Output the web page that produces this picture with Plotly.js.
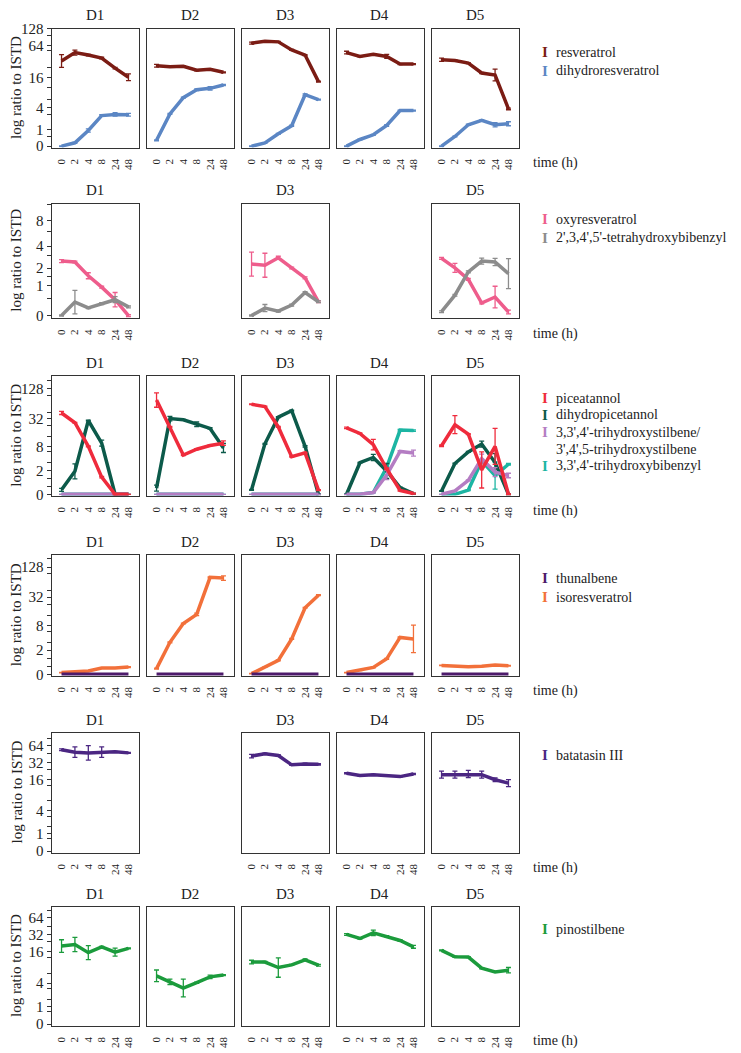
<!DOCTYPE html>
<html>
<head>
<meta charset="utf-8">
<script src="https://cdn.plot.ly/plotly-3.0.1.min.js"></script>
<style>
  body { margin: 0; background: #fff; }
  #chart { width: 741px; height: 1053px; }
</style>
</head>
<body>
<div id="chart"></div>
<script>
// values are log2(ratio + 1), as drawn on the y axes; null = panel not shown
const donors = ['D1', 'D2', 'D3', 'D4', 'D5'];
const timeLabels = ['0', '2', '4', '8', '24', '48'];

// row 1
const resveratrol = [
  [5.1, 5.6, 5.45, 5.27, 4.67, 4.12],
  [4.81, 4.75, 4.78, 4.54, 4.6, 4.42],
  [6.16, 6.28, 6.24, 5.76, 5.45, 3.86],
  [5.6, 5.37, 5.5, 5.37, 4.91, 4.91],
  [5.17, 5.13, 4.97, 4.38, 4.26, 2.23]];
const resveratrolErr = [
  [0.38, 0.15, 0.04, 0.05, 0.04, 0.2],
  [0.08, 0.03, 0.03, 0.04, 0.04, 0.03],
  [0.06, 0.03, 0.03, 0.03, 0.03, 0.03],
  [0.08, 0.03, 0.03, 0.12, 0.03, 0.03],
  [0.1, 0.03, 0.03, 0.04, 0.35, 0.05]];
const dihydroresveratrol = [
  [0, 0.2, 0.94, 1.83, 1.9, 1.88],
  [0.35, 1.93, 2.9, 3.38, 3.46, 3.66],
  [0, 0.19, 0.74, 1.22, 3.08, 2.79],
  [0, 0.4, 0.68, 1.24, 2.13, 2.13],
  [0, 0.58, 1.28, 1.54, 1.28, 1.34]];
const dihydroresveratrolErr = [
  [0.02, 0.03, 0.1, 0.05, 0.1, 0.08],
  [0.03, 0.03, 0.03, 0.05, 0.1, 0.04],
  [0.02, 0.02, 0.03, 0.03, 0.05, 0.03],
  [0.02, 0.02, 0.03, 0.05, 0.03, 0.03],
  [0.02, 0.02, 0.03, 0.03, 0.12, 0.12]];

// row 2
const oxyresveratrol = [
  [1.82, 1.79, 1.33, 0.95, 0.53, 0],
  null,
  [1.72, 1.68, 1.93, 1.59, 1.26, 0.46],
  null,
  [1.91, 1.59, 1.21, 0.42, 0.62, 0.12]];
const oxyresveratrolErr = [
  [0.05, 0.03, 0.1, 0.03, 0.24, 0.03],
  null,
  [0.4, 0.4, 0.05, 0.03, 0.03, 0.03],
  null,
  [0.03, 0.15, 0.03, 0.03, 0.36, 0.06]];
const tetrahydroxybibenzyl = [
  [0, 0.45, 0.26, 0.4, 0.53, 0.29],
  null,
  [0, 0.25, 0.15, 0.35, 0.77, 0.46],
  null,
  [0.13, 0.68, 1.46, 1.82, 1.79, 1.4]];
const tetrahydroxybibenzylErr = [
  [0.02, 0.39, 0.03, 0.03, 0.1, 0.03],
  null,
  [0.02, 0.12, 0.03, 0.03, 0.03, 0.03],
  null,
  [0.03, 0.03, 0.03, 0.1, 0.12, 0.5]];

// row 3
const piceatannol = [
  [5.41, 4.76, 3.19, 1.14, 0, 0],
  [6.27, 4.48, 2.61, 3.0, 3.25, 3.4],
  [5.99, 5.84, 4.48, 2.5, 2.76, 0.28],
  [4.42, 4.05, 3.3, 1.7, 0.25, 0.05],
  [3.23, 4.63, 4.0, 1.62, 3.19, 0]];
const piceatannolErr = [
  [0.1, 0.03, 0.03, 0.05, 0.03, 0],
  [0.48, 0.03, 0.03, 0.03, 0.03, 0.15],
  [0.03, 0.03, 0.03, 0.03, 0.03, 0.03],
  [0.05, 0.03, 0.35, 0.05, 0.03, 0.03],
  [0.05, 0.6, 0.03, 1.2, 1.2, 0.03]];
const dihydropiceatannol = [
  [0.3, 1.53, 4.91, 3.4, 0, 0],
  [0.41, 5.04, 4.96, 4.66, 4.38, 3.08],
  [0.3, 3.36, 5.13, 5.56, 3.19, 0],
  [0, 2.1, 2.45, 1.55, 0.45, 0.05],
  [0.22, 2.05, 2.82, 3.34, 2.11, 0]];
const dihydropiceatannolErr = [
  [0.1, 0.5, 0.03, 0.2, 0.03, 0],
  [0.2, 0.15, 0.03, 0.15, 0.05, 0.3],
  [0.03, 0.03, 0.03, 0.03, 0.05, 0.03],
  [0.02, 0.03, 0.2, 0.5, 0.03, 0.03],
  [0.03, 0.03, 0.03, 0.2, 0.6, 0.03]];
const trihydroxystilbene = [
  [0, 0, 0, 0, 0, 0],
  [0, 0, 0, 0, 0, 0],
  [0, 0, 0, 0, 0, 0],
  [0, 0, 0.12, 1.28, 2.85, 2.74],
  [0, 0.22, 0.93, 2.37, 1.47, 1.25]];
const trihydroxystilbeneErr = [
  [0, 0, 0, 0, 0, 0],
  [0, 0, 0, 0, 0, 0],
  [0, 0, 0, 0, 0, 0],
  [0, 0, 0.03, 0.3, 0.05, 0.2],
  [0, 0.03, 0.03, 0.3, 0.3, 0.15]];
const trihydroxybibenzyl = [
  [0, 0, 0, 0, 0, 0],
  [0, 0, 0, 0, 0, 0],
  [0, 0, 0, 0, 0, 0],
  [0, 0, 0.12, 1.8, 4.27, 4.24],
  [0, 0, 0.28, 2.22, 1.25, 2.0]];
const trihydroxybibenzylErr = [
  [0, 0, 0, 0, 0, 0],
  [0, 0, 0, 0, 0, 0],
  [0, 0, 0, 0, 0, 0],
  [0, 0, 0.03, 0.05, 0.05, 0.05],
  [0, 0, 0.03, 0.1, 0.9, 0.05]];

// row 4
const thunalbene = [
  [0, 0, 0, 0, 0, 0],
  [0, 0, 0, 0, 0, 0],
  [0, 0, 0, 0, 0, 0],
  [0, 0, 0, 0, 0, 0],
  [0, 0, 0, 0, 0, 0]];
const isoresveratrol = [
  [0.11, 0.15, 0.22, 0.41, 0.41, 0.47],
  [0.37, 2.09, 3.32, 3.92, 6.34, 6.29],
  [0.04, 0.47, 0.91, 2.31, 4.35, 5.17],
  [0.11, 0.26, 0.45, 1.01, 2.41, 2.31],
  [0.58, 0.54, 0.5, 0.52, 0.6, 0.56]];
const isoresveratrolErr = [
  [0.02, 0.02, 0.02, 0.03, 0.03, 0.03],
  [0.03, 0.03, 0.03, 0.08, 0.03, 0.15],
  [0.02, 0.02, 0.03, 0.03, 0.03, 0.03],
  [0.02, 0.02, 0.03, 0.03, 0.03, 0.9],
  [0.02, 0.02, 0.02, 0.02, 0.02, 0.02]];

// row 5
const batatasin = [
  [5.77, 5.63, 5.59, 5.63, 5.65, 5.59],
  null,
  [5.41, 5.54, 5.44, 4.91, 4.96, 4.94],
  [4.43, 4.3, 4.34, 4.28, 4.24, 4.39],
  [4.35, 4.35, 4.39, 4.35, 4.06, 3.87]];
const batatasinErr = [
  [0.05, 0.3, 0.41, 0.3, 0.03, 0.03],
  null,
  [0.1, 0.03, 0.05, 0.03, 0.05, 0.04],
  [0.03, 0.03, 0.03, 0.03, 0.03, 0.03],
  [0.2, 0.2, 0.2, 0.2, 0.1, 0.2]];

// row 6
const pinostilbene = [
  [4.41, 4.5, 4.04, 4.37, 4.07, 4.28],
  [2.73, 2.39, 2.04, 2.34, 2.67, 2.77],
  [3.51, 3.51, 3.2, 3.35, 3.63, 3.33],
  [5.07, 4.84, 5.16, 4.97, 4.73, 4.37],
  [4.17, 3.81, 3.79, 3.16, 2.95, 3.05]];
const pinostilbeneErr = [
  [0.36, 0.4, 0.4, 0.03, 0.23, 0.03],
  [0.33, 0.15, 0.5, 0.03, 0.1, 0.03],
  [0.1, 0.03, 0.55, 0.03, 0.05, 0.05],
  [0.05, 0.03, 0.15, 0.03, 0.05, 0.08],
  [0.03, 0.03, 0.03, 0.03, 0.03, 0.15]];

// y tick labels (ratio) per row, placed at log2(v + 1)
const row1Ticks = [0, 1, 4, 16, 64, 128];
const row2Ticks = [0, 1, 2, 4, 8];
const row34Ticks = [0, 2, 8, 32, 128];
const row56Ticks = [0, 1, 4, 16, 32, 64];

const rows = [
  { top: 28.5, bottom: 147.5, ymax: 7.04, cols: [0, 1, 2, 3, 4], ticks: row1Ticks,
    minor: [0.6, 1.9, 2.8, 3.5, 4.7, 5.7, 6.6],
    series: [
      { name: 'resveratrol', color: '#7b1c14', y: resveratrol, err: resveratrolErr },
      { name: 'dihydroresveratrol', color: '#5b86c4', y: dihydroresveratrol, err: dihydroresveratrolErr }]},
  { top: 203.5, bottom: 318, ymax: 3.74, cols: [0, 2, 4], ticks: row2Ticks,
    minor: [0.58, 1.32, 2.0, 2.81, 3.7],
    series: [
      { name: 'oxyresveratrol', color: '#ee5d8c', y: oxyresveratrol, err: oxyresveratrolErr },
      { name: "2',3,4',5'-tetrahydroxybibenzyl", color: '#8c8c8c', y: tetrahydroxybibenzyl, err: tetrahydroxybibenzylErr }]},
  { top: 376, bottom: 495.5, ymax: 7.87, cols: [0, 1, 2, 3, 4], ticks: row34Ticks,
    minor: [0.5, 1.03, 2.11, 2.82, 3.84, 4.59, 5.45, 6.57, 7.56],
    series: [
      { name: 'trihydroxybibenzyl', color: '#1cb5a3', y: trihydroxybibenzyl, err: trihydroxybibenzylErr },
      { name: 'dihydropiceatannol', color: '#0c5a4a', y: dihydropiceatannol, err: dihydropiceatannolErr },
      { name: 'trihydroxystilbene', color: '#b47dc3', y: trihydroxystilbene, err: trihydroxystilbeneErr },
      { name: 'piceatannol', color: '#ef2b3c', y: piceatannol, err: piceatannolErr }]},
  { top: 555, bottom: 675.5, ymax: 7.8, cols: [0, 1, 2, 3, 4], ticks: row34Ticks,
    minor: [0.5, 1.03, 2.11, 2.82, 3.84, 4.59, 5.45, 6.57, 7.56],
    series: [
      { name: 'isoresveratrol', color: '#f2703a', y: isoresveratrol, err: isoresveratrolErr },
      { name: 'thunalbene', color: '#4d1a6b', y: thunalbene, err: null }]},
  { top: 732.5, bottom: 852.5, ymax: 6.75, cols: [0, 2, 3, 4], ticks: row56Ticks,
    minor: [0.7, 1.38, 1.99, 2.86, 3.75, 4.67, 5.54, 6.42],
    series: [
      { name: 'batatasin III', color: '#4b2682', y: batatasin, err: batatasinErr }]},
  { top: 906.5, bottom: 1025.5, ymax: 6.65, cols: [0, 1, 2, 3, 4], ticks: row56Ticks,
    minor: [0.7, 1.38, 1.99, 2.86, 3.75, 4.67, 5.54, 6.42],
    series: [
      { name: 'pinostilbene', color: '#1b9b3c', y: pinostilbene, err: pinostilbeneErr }]}
];

const legends = [
  [{ t: 'resveratrol', c: '#7b1c14', y: 52 }, { t: 'dihydroresveratrol', c: '#5b86c4', y: 71 }],
  [{ t: 'oxyresveratrol', c: '#ee5d8c', y: 219 }, { t: "2',3,4',5'-tetrahydroxybibenzyl", c: '#8c8c8c', y: 238 }],
  [{ t: 'piceatannol', c: '#ef2b3c', y: 398 }, { t: 'dihydropicetannol', c: '#0c5a4a', y: 415 },
   { t: "3,3',4'-trihydroxystilbene/", c: '#b47dc3', y: 432 }, { t: "3',4',5-trihydroxystilbene", c: null, y: 449 },
   { t: "3,3',4'-trihydroxybibenzyl", c: '#1cb5a3', y: 466 }],
  [{ t: 'thunalbene', c: '#4d1a6b', y: 578 }, { t: 'isoresveratrol', c: '#f2703a', y: 597 }],
  [{ t: 'batatasin III', c: '#4b2682', y: 755 }],
  [{ t: 'pinostilbene', c: '#1b9b3c', y: 929 }]
];

const W = 741, H = 1053;
const colLeft = [51.5, 146.5, 241.5, 336.5, 431.5];
const panelW = 87;
const FONT = 'Liberation Serif, Times New Roman, serif';
const px = x => x / W;
const py = y => 1 - y / H;
const log2p = v => Math.log2(v + 1);
const xIdx = timeLabels.map((_, i) => i);

const layout = {
  width: W, height: H,
  margin: { l: 0, r: 0, t: 0, b: 0 },
  paper_bgcolor: '#fff', plot_bgcolor: '#fff',
  showlegend: false,
  font: { family: FONT, color: '#222' },
  annotations: []
};
const traces = [];
let n = 0;

rows.forEach((row, r) => {
  row.cols.forEach(c => {
    n += 1;
    const xa = n === 1 ? 'xaxis' : 'xaxis' + n;
    const ya = n === 1 ? 'yaxis' : 'yaxis' + n;
    const xr = n === 1 ? 'x' : 'x' + n;
    const yr = n === 1 ? 'y' : 'y' + n;
    const tickPos = row.ticks.map(log2p).concat(row.minor);
    const tickTxt = row.ticks.map(String).concat(row.minor.map(() => ''));

    layout[xa] = {
      domain: [px(colLeft[c]), px(colLeft[c] + panelW)], anchor: yr,
      range: [-0.75, 5.75], tickmode: 'array', tickvals: xIdx, ticktext: timeLabels,
      tickangle: -90, ticks: 'outside', ticklen: 6, tickcolor: 'rgba(0,0,0,0)',
      tickfont: { family: FONT, size: 11, color: '#222' },
      showline: true, mirror: true, linecolor: '#333', linewidth: 1,
      showgrid: false, zeroline: false
    };
    layout[ya] = {
      domain: [py(row.bottom), py(row.top)], anchor: xr,
      range: [-0.08, row.ymax], tickmode: 'array', tickvals: tickPos, ticktext: tickTxt,
      ticks: c === 0 ? 'outside' : '', ticklen: 4, tickcolor: '#333', tickwidth: 1,
      showticklabels: c === 0,
      tickfont: { family: FONT, size: 15, color: '#222' },
      showline: true, mirror: true, linecolor: '#333', linewidth: 1,
      showgrid: false, zeroline: false
    };

    row.series.forEach(s => {
      const ys = s.y[c];
      if (!ys) return;
      const tr = {
        x: xIdx, y: ys, xaxis: xr, yaxis: yr,
        type: 'scatter', mode: 'lines', name: s.name,
        line: { color: s.color, width: 3.5 },
        hovertemplate: s.name + ': %{y:.2f}<extra></extra>'
      };
      if (s.err && s.err[c]) {
        tr.error_y = { type: 'data', array: s.err[c], visible: true,
          color: s.color, thickness: 1.3, width: 2.5 };
      }
      traces.push(tr);
    });

    layout.annotations.push({
      xref: 'paper', yref: 'paper', x: px(colLeft[c] + panelW / 2), y: py(row.top - 13),
      text: donors[c], showarrow: false, xanchor: 'center', yanchor: 'middle',
      font: { family: FONT, size: 15, color: '#222' }
    });
  });

  // y title
  layout.annotations.push({
    xref: 'paper', yref: 'paper', x: px(16), y: py((row.top + row.bottom) / 2),
    text: 'log ratio to ISTD', textangle: -90, showarrow: false,
    xanchor: 'center', yanchor: 'middle', font: { family: FONT, size: 15, color: '#222' }
  });
  // time label
  layout.annotations.push({
    xref: 'paper', yref: 'paper', x: px(531), y: py(row.bottom + 15.5),
    text: 'time (h)', showarrow: false, xanchor: 'left', yanchor: 'middle',
    font: { family: FONT, size: 14, color: '#222' }
  });
  // legend
  legends[r].forEach(item => {
    if (item.c) {
      layout.annotations.push({
        xref: 'paper', yref: 'paper', x: px(545), y: py(item.y),
        text: '<b>I</b>', showarrow: false, xanchor: 'center', yanchor: 'middle',
        font: { family: FONT, size: 15, color: item.c }
      });
    }
    layout.annotations.push({
      xref: 'paper', yref: 'paper', x: px(554), y: py(item.y),
      text: item.t, showarrow: false, xanchor: 'left', yanchor: 'middle',
      font: { family: FONT, size: 14, color: '#222' }
    });
  });
});

Plotly.newPlot('chart', traces, layout, { displayModeBar: false, staticPlot: true });
</script>
</body>
</html>
